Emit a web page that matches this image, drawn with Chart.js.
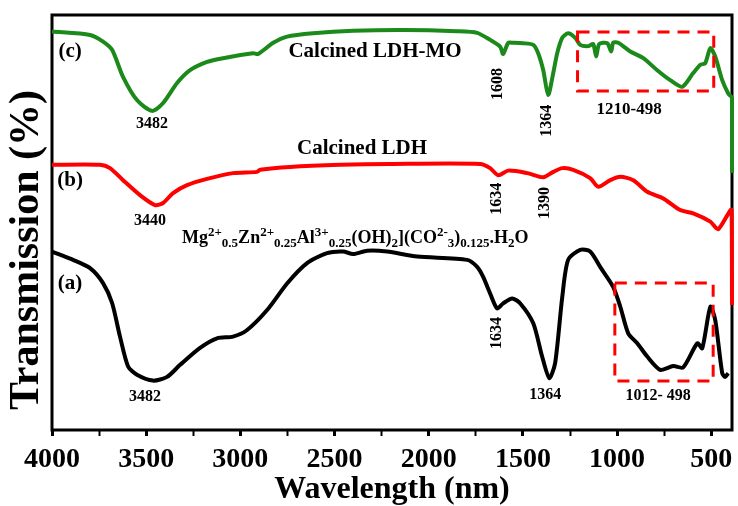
<!DOCTYPE html>
<html>
<head>
<meta charset="utf-8">
<script src="https://cdn.jsdelivr.net/npm/chart.js@4/dist/chart.umd.min.js"></script>
<style>
  html, body { margin: 0; padding: 0; background: #fff; }
  #wrap { width: 738px; height: 506px; }
</style>
</head>
<body>
<div id="wrap"><canvas id="ftir" width="738" height="506"></canvas></div>
<script>
// FTIR spectra, wavenumber (x) vs transmission (y, arbitrary %)

// (a) uncalcined LDH - black
const aWave = [4000, 3888, 3798, 3729, 3681, 3639, 3596, 3549, 3464, 3389, 3320, 3214, 3124, 3039, 2964, 2858, 2752, 2646, 2540, 2455, 2401, 2327, 2221, 2061, 1796, 1743, 1711, 1674, 1637, 1605, 1557, 1514, 1445, 1398, 1360, 1329, 1291, 1260, 1196, 1143, 1090, 1021, 983, 941, 893, 840, 771, 702, 649, 574, 548, 505, 479, 442, 426, 410];
const aTrans = [43.0, 41.0, 39.0, 35.4, 30.6, 22.5, 15.3, 13.3, 11.9, 12.8, 15.7, 19.8, 22.1, 22.5, 24.1, 28.9, 35.3, 40.2, 42.6, 43.0, 42.4, 43.2, 43.0, 41.8, 41.0, 39.3, 36.9, 32.9, 29.3, 30.5, 31.7, 30.5, 25.7, 17.7, 12.5, 16.1, 32.1, 41.0, 43.4, 43.0, 39.3, 34.5, 29.7, 23.3, 20.9, 17.7, 14.5, 15.4, 15.1, 20.9, 19.7, 29.7, 26.5, 13.7, 12.8, 13.7];

// (b) calcined LDH - red
const bWave = [4000, 3745, 3692, 3623, 3533, 3453, 3410, 3357, 3283, 3177, 3039, 2911, 2895, 2736, 2470, 2205, 1727, 1674, 1631, 1578, 1477, 1392, 1339, 1291, 1233, 1143, 1100, 1036, 983, 914, 840, 755, 665, 596, 505, 463, 392, 390];
const bTrans = [63.9, 63.9, 63.1, 60.2, 56.6, 54.2, 54.7, 57.1, 59.0, 60.5, 61.9, 62.2, 62.7, 63.4, 63.9, 64.1, 64.1, 63.1, 61.4, 62.5, 61.9, 60.9, 62.2, 63.1, 62.7, 60.7, 58.6, 60.2, 61.0, 60.2, 57.4, 55.8, 53.0, 52.2, 50.2, 48.4, 53.0, 30.1];

// (c) calcined LDH-MO - green
const cWave = [4000, 3798, 3729, 3681, 3623, 3549, 3469, 3410, 3336, 3267, 3177, 3092, 2932, 2906, 2826, 2752, 2614, 2401, 2136, 1849, 1743, 1674, 1621, 1605, 1578, 1552, 1499, 1445, 1419, 1392, 1366, 1339, 1318, 1291, 1260, 1222, 1196, 1153, 1127, 1111, 1095, 1052, 1031, 1021, 994, 930, 861, 787, 718, 654, 596, 558, 532, 505, 479, 442, 410, 390, 390];
const cTrans = [96.0, 95.2, 93.6, 91.6, 85.1, 79.5, 76.9, 78.8, 83.6, 86.7, 88.7, 89.6, 90.8, 90.6, 93.3, 94.8, 95.6, 96.2, 96.4, 96.1, 95.7, 94.0, 92.4, 90.6, 93.3, 93.3, 93.2, 92.8, 90.8, 86.7, 80.7, 86.0, 90.8, 94.5, 95.6, 94.5, 92.8, 92.5, 93.0, 90.0, 93.0, 93.2, 91.2, 93.3, 93.3, 91.2, 89.6, 86.7, 84.3, 82.7, 86.0, 88.0, 88.4, 92.0, 90.0, 84.3, 81.1, 80.0, 61.9];

// tick labels
const majorTicks = [4000, 3500, 3000, 2500, 2000, 1500, 1000, 500];
const minorTicks = [3750, 3250, 2750, 2250, 1750, 1250, 750];

// dashed boxes (wavenumber range, transmission range)
const boxes = [
  { x0: 1210, x1: 487, y0: 95.9, y1: 81.7 },
  { x0: 1012, x1: 490, y0: 35.4, y1: 11.8 }
];

// peak labels, placed in data units
const notes = [
  { t: '(c)', x: 3904, y: 91.1, size: 21 },
  { t: '(b)', x: 3904, y: 60.0, size: 21 },
  { t: '(a)', x: 3904, y: 35.2, size: 21 },
  { t: '3482', x: 3469, y: 73.7, size: 16 },
  { t: '3440', x: 3480, y: 50.4, size: 16 },
  { t: '3482', x: 3506, y: 8.0, size: 16 },
  { t: 'Calcined LDH-MO', x: 2285, y: 91.1, size: 21 },
  { t: 'Calcined LDH', x: 2354, y: 67.7, size: 21 },
  { t: '1608', x: 1631, y: 83.4, size: 16, rot: true },
  { t: '1364', x: 1371, y: 74.5, size: 16, rot: true },
  { t: '1210-498', x: 936, y: 77.3, size: 17 },
  { t: '1634', x: 1637, y: 55.7, size: 16, rot: true },
  { t: '1390', x: 1382, y: 54.7, size: 16, rot: true },
  { t: '1634', x: 1637, y: 23.4, size: 16, rot: true },
  { t: '1364', x: 1382, y: 8.4, size: 16 },
  { t: '1012- 498', x: 782, y: 8.2, size: 16 }
];

// formula: [text, 'n' | 'sup' | 'sub']
const formula = [
  ['Mg', 'n'], ['2+', 'sup'], ['0.5', 'sub'],
  ['Zn', 'n'], ['2+', 'sup'], ['0.25', 'sub'],
  ['Al', 'n'], ['3+', 'sup'], ['0.25', 'sub'],
  ['(OH)', 'n'], ['2', 'sub'], ['](CO', 'n'], ['2-', 'sup'], ['3', 'sub'],
  [')', 'n'], ['0.125', 'sub'], ['.H', 'n'], ['2', 'sub'], ['O', 'n']
];
const formulaAt = { x: 3310, y: 45.1 };

const SERIF = '"Liberation Serif", "Times New Roman", serif';
const GREEN = '#1b8a1b';
const RED = '#ff0000';

function toPoints(xs, ys) {
  return xs.map((x, i) => ({ x: x, y: ys[i] }));
}

const framePlugin = {
  id: 'frame',
  beforeDatasetsDraw(chart) {
    const { ctx, chartArea: a } = chart;
    ctx.save();
    ctx.strokeStyle = '#000';
    ctx.lineWidth = 3;
    ctx.strokeRect(a.left, a.top, a.right - a.left, a.bottom - a.top);
    ctx.restore();
  },
  afterDraw(chart) {
    const { ctx } = chart;
    ctx.save();
    ctx.translate(27, 250);
    ctx.rotate(-Math.PI / 2);
    ctx.font = 'bold 42px ' + SERIF;
    ctx.fillStyle = '#000';
    ctx.textAlign = 'center';
    ctx.textBaseline = 'middle';
    ctx.fillText('Transmission (%)', 0, 0);
    ctx.restore();
  }
};

const notesPlugin = {
  id: 'notes',
  afterDatasetsDraw(chart) {
    const { ctx } = chart;
    const xs = chart.scales.x, ys = chart.scales.y;
    ctx.save();
    ctx.fillStyle = '#000';

    // dashed boxes
    ctx.strokeStyle = RED;
    ctx.lineWidth = 3;
    ctx.setLineDash([12, 8]);
    boxes.forEach(b => {
      const x0 = xs.getPixelForValue(b.x0), x1 = xs.getPixelForValue(b.x1);
      const y0 = ys.getPixelForValue(b.y0), y1 = ys.getPixelForValue(b.y1);
      ctx.strokeRect(x0, y0, x1 - x0, y1 - y0);
    });
    ctx.setLineDash([]);

    // labels
    ctx.textAlign = 'center';
    ctx.textBaseline = 'middle';
    notes.forEach(n => {
      const px = xs.getPixelForValue(n.x), py = ys.getPixelForValue(n.y);
      ctx.font = 'bold ' + n.size + 'px ' + SERIF;
      if (n.rot) {
        ctx.save();
        ctx.translate(px, py);
        ctx.rotate(-Math.PI / 2);
        ctx.fillText(n.t, 0, 0);
        ctx.restore();
      } else {
        ctx.fillText(n.t, px, py);
      }
    });

    // formula with super/subscripts
    ctx.textAlign = 'left';
    ctx.textBaseline = 'alphabetic';
    let fx = xs.getPixelForValue(formulaAt.x);
    const fy = ys.getPixelForValue(formulaAt.y);
    formula.forEach(([txt, mode]) => {
      let size = 18, dy = 0;
      if (mode === 'sup') { size = 13; dy = -7; }
      if (mode === 'sub') { size = 13; dy = 4; }
      ctx.font = 'bold ' + size + 'px ' + SERIF;
      ctx.fillText(txt, fx, fy + dy);
      fx += ctx.measureText(txt).width;
    });
    ctx.restore();
  }
};

const ctx = document.getElementById('ftir').getContext('2d');
new Chart(ctx, {
  type: 'line',
  data: {
    datasets: [
      { label: '(a)', data: toPoints(aWave, aTrans), borderColor: '#000', borderWidth: 4 },
      { label: '(b)', data: toPoints(bWave, bTrans), borderColor: RED, borderWidth: 4 },
      { label: '(c)', data: toPoints(cWave, cTrans), borderColor: GREEN, borderWidth: 4 }
    ].map(d => Object.assign(d, { pointRadius: 0, tension: 0.25, fill: false, clip: false }))
  },
  options: {
    responsive: false,
    animation: false,
    layout: { padding: { left: 52, right: 6, top: 15, bottom: 0 } },
    plugins: { legend: { display: false }, tooltip: { enabled: false } },
    scales: {
      x: {
        type: 'linear',
        reverse: true,
        min: 390,
        max: 4000,
        afterBuildTicks: s => {
          s.ticks = majorTicks.concat(minorTicks).sort((p, q) => q - p).map(v => ({ value: v }));
        },
        afterFit: s => {
          // fixed axis band so the plot frame lands where the original does
          s.height = 76;
          s.paddingLeft = 0;
          s.paddingRight = 0;
        },
        ticks: {
          autoSkip: false,
          maxRotation: 0,
          padding: 10,
          color: '#000',
          font: { family: SERIF, size: 28, weight: 'bold', lineHeight: 1 },
          callback: v => majorTicks.includes(v) ? String(v) : ''
        },
        grid: {
          drawOnChartArea: false,
          drawTicks: true,
          tickLength: 6,
          tickColor: '#000',
          tickWidth: c => (c.tick && majorTicks.includes(c.tick.value)) ? 3 : 2
        },
        border: { display: false },
        title: {
          display: true,
          text: 'Wavelength (nm)',
          color: '#000',
          font: { family: SERIF, size: 32, weight: 'bold', lineHeight: 1 },
          padding: { top: 0, bottom: 0 }
        }
      },
      y: { display: false, min: 0, max: 100 }
    }
  },
  plugins: [framePlugin, notesPlugin]
});
</script>
</body>
</html>
